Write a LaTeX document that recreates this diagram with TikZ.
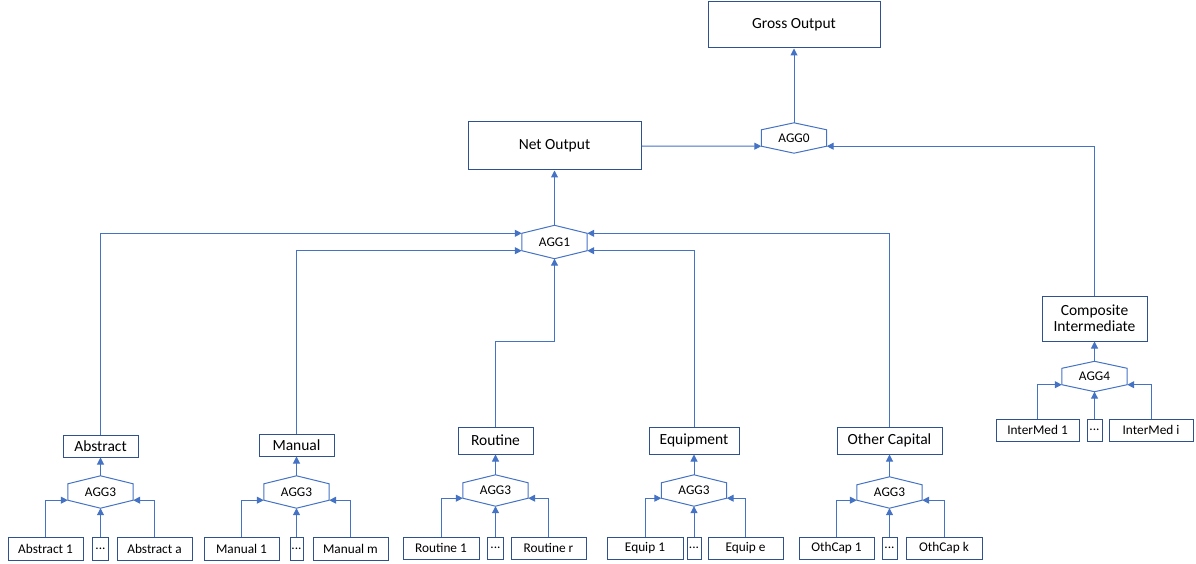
\documentclass[tikz,border=0pt]{standalone}
\usepackage{fontspec}
\setmainfont{Carlito}
\usetikzlibrary{calc,arrows.meta}
\definecolor{lineblue}{RGB}{68,114,196}
\definecolor{boxblue}{RGB}{47,82,143}
\tikzset{
  box/.style={draw=boxblue, line width=1pt, fill=white, inner sep=0pt, align=center},
  bigbox/.style={box, font=\fontsize{15.5}{17}\selectfont},
  smallbox/.style={box, font=\fontsize{13.3}{15}\selectfont, minimum height=23pt},
  hexn/.style={inner sep=0pt, minimum width=65pt, font=\fontsize{13.3}{15}\selectfont},
  hexline/.style={draw=lineblue, line width=1pt, line join=miter},
  conn/.style={draw=lineblue, line width=1pt, -{Triangle[length=7pt,width=7pt]}},
}
\newcommand\hexnode[5]{%
  \node[hexn, minimum height=#4pt] (#1) at (#2) {#3};
  \coordinate (#1-ur) at ($(#1.north east)+(0,#5)$);
  \coordinate (#1-lr) at ($(#1.south east)+(0,-#5)$);
  \coordinate (#1-ul) at ($(#1.north west)+(0,#5)$);
  \coordinate (#1-ll) at ($(#1.south west)+(0,-#5)$);
  \draw[hexline] (#1.north) -- (#1-ur) -- (#1-lr) -- (#1.south) -- (#1-ll) -- (#1-ul) -- cycle;
}
\begin{document}
\begin{tikzpicture}[x=1pt,y=-1pt]
\useasboundingbox (0,0) rectangle (1196,564);

% top level
\node[bigbox, minimum width=172pt, minimum height=46pt] (gross) at (794,25) {Gross Output};
\node[bigbox, minimum width=173pt, minimum height=48pt] (net) at (554.5,146) {Net Output};
\hexnode{agg0}{794,138}{AGG0}{30}{7}
\hexnode{agg1}{554.5,242}{AGG1}{33}{8}

% composite intermediate
\node[bigbox, minimum width=105pt, minimum height=45pt] (comp) at (1094.5,318.5) {Composite\\[-1pt]Intermediate};
\hexnode{agg4}{1094.5,376.5}{AGG4}{30}{7}
\node[smallbox, minimum width=83pt, minimum height=22pt] (im1) at (1037.5,430) {InterMed 1};
\node[smallbox, minimum width=15pt, minimum height=22pt] (imd) at (1094.5,430) {...};
\node[smallbox, minimum width=84pt, minimum height=22pt] (imi) at (1151,430) {InterMed i};

% groups
\node[bigbox, minimum width=75pt, minimum height=22pt] (abs) at (100.5,446) {Abstract};
\node[bigbox, minimum width=75pt, minimum height=22pt] (man) at (296.5,445) {Manual};
\node[bigbox, minimum width=75pt, minimum height=27pt] (rou) at (495.5,440.5) {Routine};
\node[bigbox, minimum width=90pt, minimum height=27pt] (equ) at (694,440.5) {Equipment};
\node[bigbox, minimum width=105pt, minimum height=27pt] (oth) at (889.5,440.5) {Other Capital};

\hexnode{aggA}{100.5,492}{AGG3}{32}{8}
\hexnode{aggM}{296.5,492}{AGG3}{32}{8}
\hexnode{aggR}{495.5,490.5}{AGG3}{31}{8}
\hexnode{aggE}{694,490.5}{AGG3}{31}{8}
\hexnode{aggO}{889.5,492.5}{AGG3}{31}{8}

% items
\node[smallbox, minimum width=75pt] (a1) at (45.5,549) {Abstract 1};
\node[smallbox, minimum width=16pt] (ad) at (100.5,549) {...};
\node[smallbox, minimum width=75pt] (aa) at (154.5,549) {Abstract a};
\node[smallbox, minimum width=75pt] (m1) at (241.5,549) {Manual 1};
\node[smallbox, minimum width=13pt] (md) at (296.5,549) {...};
\node[smallbox, minimum width=75pt] (mm) at (350.5,549) {Manual m};
\node[smallbox, minimum width=76pt, minimum height=22pt] (r1) at (441,548) {Routine 1};
\node[smallbox, minimum width=16pt, minimum height=22pt] (rd) at (495.5,548) {...};
\node[smallbox, minimum width=75pt, minimum height=22pt] (rr) at (548.5,548) {Routine r};
\node[smallbox, minimum width=76pt, minimum height=22pt] (e1) at (645,548) {Equip 1};
\node[smallbox, minimum width=14pt, minimum height=22pt] (ed) at (694,548) {...};
\node[smallbox, minimum width=75pt, minimum height=22pt] (ee) at (745.5,548) {Equip e};
\node[smallbox, minimum width=75pt, minimum height=22pt] (o1) at (836.5,548) {OthCap 1};
\node[smallbox, minimum width=15pt, minimum height=22pt] (od) at (889.5,548) {...};
\node[smallbox, minimum width=76pt, minimum height=22pt] (ok) at (944,548) {OthCap k};

% connectors: top
\draw[conn] (agg0.north) -- (gross.south);
\draw[conn] (net.east) -- (agg0-ll);
\draw[conn] (comp.north) |- (agg0-lr);
\draw[conn] (agg1.north) -- (net.south);
\draw[conn] (abs.north) |- (agg1-ul);
\draw[conn] (man.north) |- (agg1-ll);
\draw[conn] (oth.north) |- (agg1-ur);
\draw[conn] (equ.north) |- (agg1-lr);
\draw[conn] (rou.north) -- ++(0,-85) -| (agg1.south);

% composite
\draw[conn] (agg4.north) -- (comp.south);
\draw[conn] (im1.north) |- (agg4-ll);
\draw[conn] (imd.north) -- (agg4.south);
\draw[conn] (imi.north) |- (agg4-lr);

% group aggregations
\foreach \g/\h/\i/\d/\n in {abs/aggA/a1/ad/aa, man/aggM/m1/md/mm, rou/aggR/r1/rd/rr, equ/aggE/e1/ed/ee, oth/aggO/o1/od/ok}{
  \draw[conn] (\h.north) -- (\g.south);
  \draw[conn] (\i.north) |- (\h-ll);
  \draw[conn] (\d.north) -- (\h.south);
  \draw[conn] (\n.north) |- (\h-lr);
}
\end{tikzpicture}
\end{document}
